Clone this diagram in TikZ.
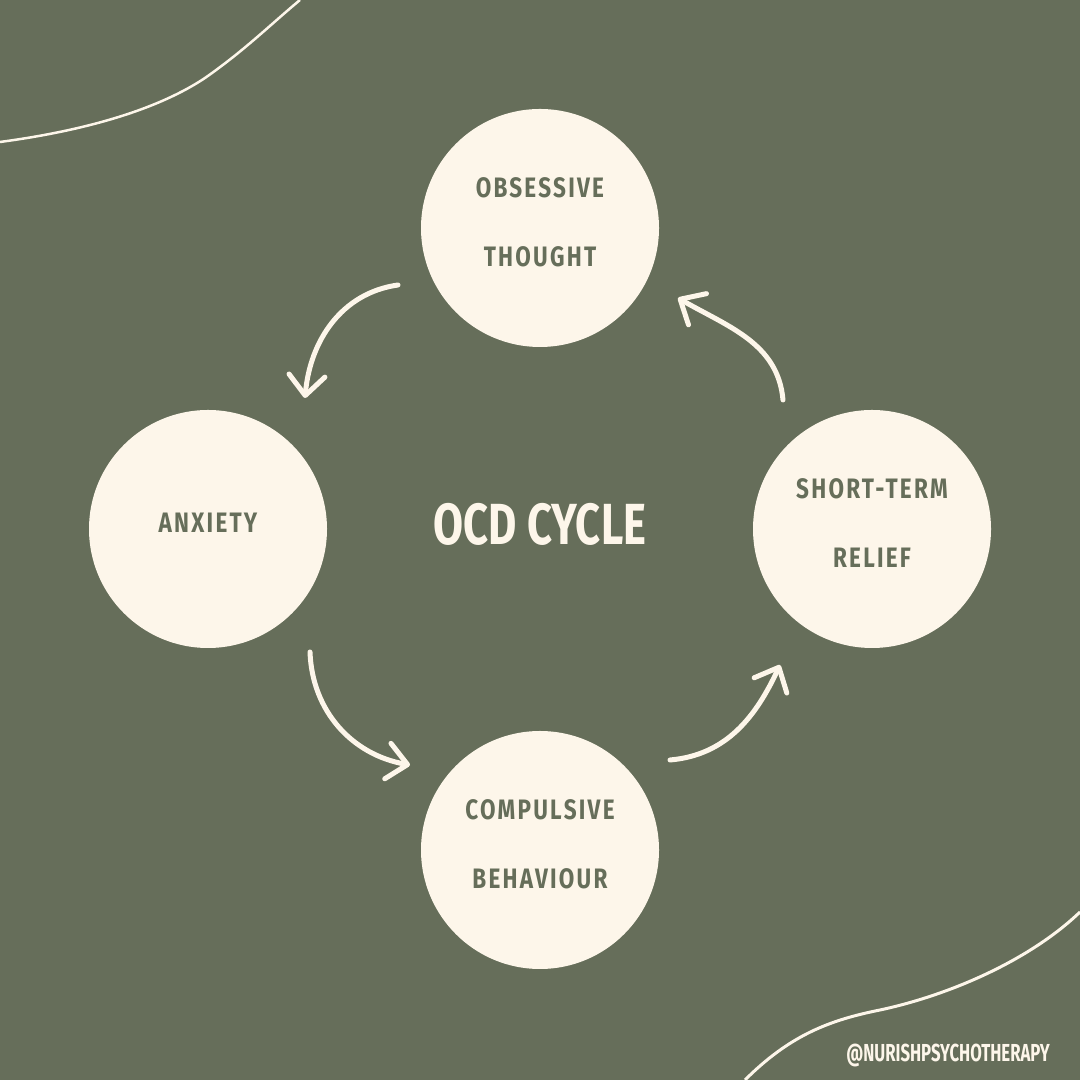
\documentclass[tikz,border=0pt]{standalone}
\usepackage{fontspec}
\setmainfont{Fira Sans}
\newfontfamily\stepfont[LetterSpace=8,FakeStretch=0.8]{Fira Sans}
\newfontfamily\titlefont[FakeStretch=0.75]{Fira Sans}
\newfontfamily\handlefont[FakeStretch=0.68]{Fira Sans}
\usetikzlibrary{arrows.meta}
\definecolor{sage}{HTML}{666E5A}
\definecolor{cream}{HTML}{FDF6EA}

\begin{document}
\begin{tikzpicture}[
    phase/.style={circle, fill=cream, minimum size=2.38cm, inner sep=0pt,
      align=center, text=sage, font=\stepfont\bfseries\fontsize{8}{9.6}\selectfont},
    cyc/.style={draw=cream, line width=0.5mm, line cap=round,
      -{Straight Barb[length=2mm,width=3.6mm,round]}},
    swirl/.style={draw=cream, line width=0.25mm}
  ]
  \useasboundingbox (0,0) rectangle (10.8,10.8);
  \fill[sage] (0,0) rectangle (10.8,10.8);
  \clip (0,0) rectangle (10.8,10.8);
  % corner lines
  \draw[swirl] (0,9.38) .. controls (0.9,9.5) and (1.6,9.72) .. (2.05,10.02)
    .. controls (2.45,10.3) and (2.7,10.55) .. (3.0,10.8);
  \draw[swirl, line width=0.3mm] (7.45,0) .. controls (7.9,0.45) and (8.3,0.6) .. (8.8,0.70)
    .. controls (9.5,0.85) and (10.3,1.2) .. (10.8,1.68);
  % stages
  \node[phase] (T) at (5.40,8.52) {OBSESSIVE\\[3.5mm]THOUGHT\\[-2.2mm]};
  \node[phase] (A) at (2.08,5.51) {ANXIETY\\[-2.2mm]};
  \node[phase] (C) at (5.40,2.30) {COMPULSIVE\\[3.5mm]BEHAVIOUR\\[-2.2mm]};
  \node[phase] (R) at (8.72,5.51) {SHORT-TERM\\[3.5mm]RELIEF\\[-2.2mm]};
  \node[text=cream, font=\titlefont\bfseries\fontsize{16.5}{20}\selectfont] (M) at (5.40,5.56) {OCD CYCLE};
  % arrows
  \draw[cyc] ([shift={(-1.42,-0.57)}]T.center) to[out=188,in=85] ([shift={(0.97,1.31)}]A.center);
  \draw[cyc] ([shift={(1.02,-1.23)}]A.center) to[out=272,in=170] ([shift={(-1.30,0.85)}]C.center);
  \draw[cyc] ([shift={(1.30,0.90)}]C.center) to[out=5,in=245] ([shift={(-0.92,-1.36)}]R.center);
  \draw[cyc] ([shift={(-0.89,1.29)}]R.center) to[out=95,in=-30] ([shift={(1.38,-0.70)}]T.center);
  \node[text=cream, font=\handlefont\bfseries\fontsize{7}{8}\selectfont] (H) at (9.48,0.25) {@NURISHPSYCHOTHERAPY};
\end{tikzpicture}
\end{document}
